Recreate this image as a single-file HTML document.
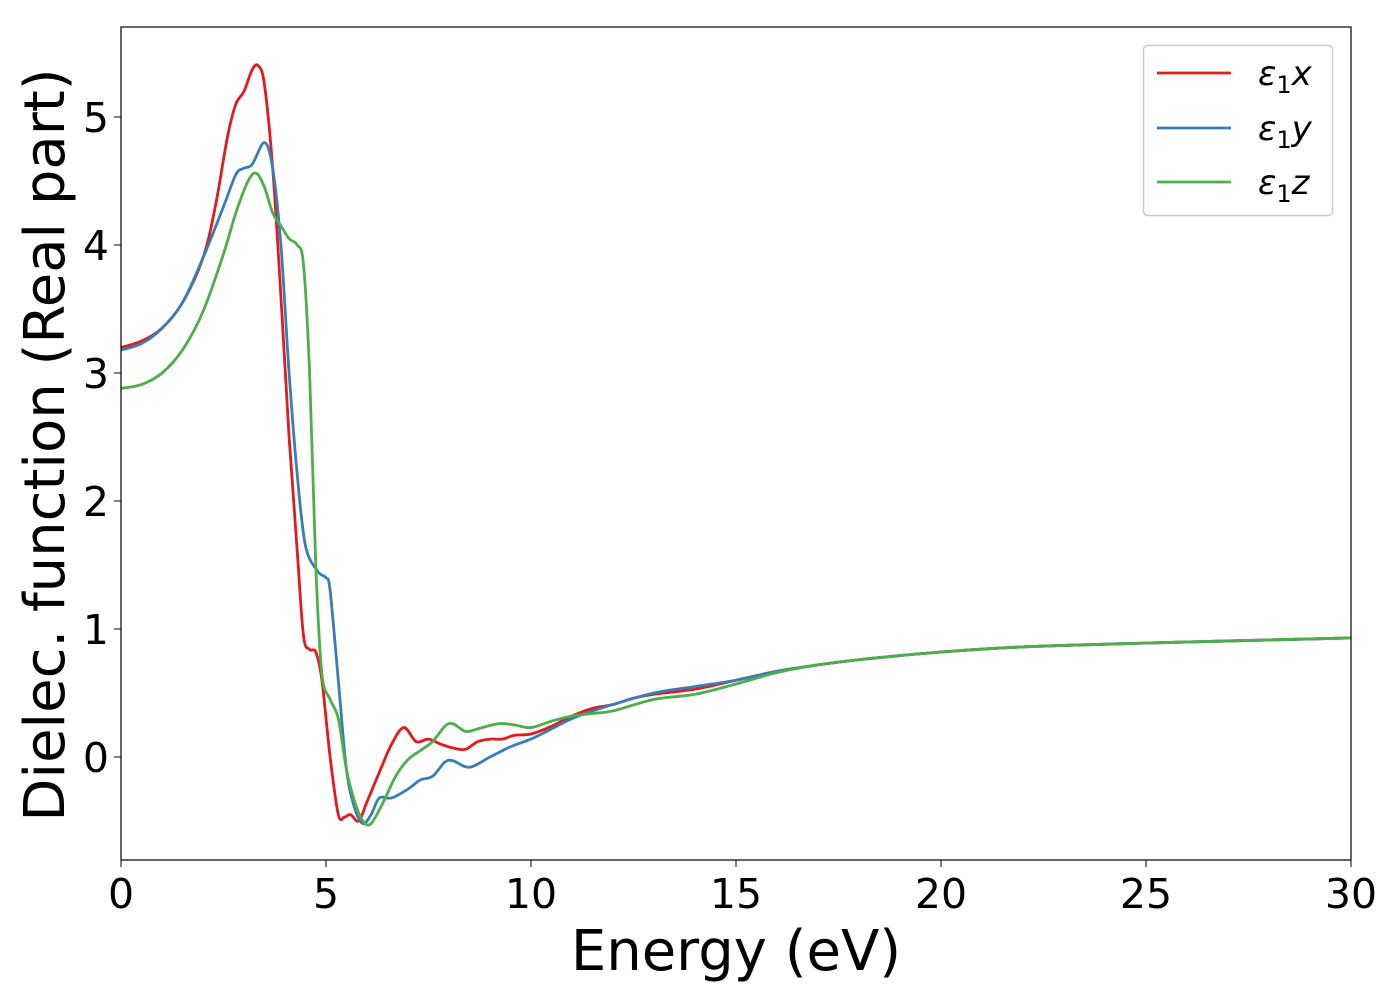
<!DOCTYPE html>
<html><head><meta charset="utf-8"><style>
body{margin:0;background:#fff;width:1400px;height:1000px;overflow:hidden}
svg text{font-family:"DejaVu Sans","Liberation Sans",sans-serif;fill:#000}
</style></head><body>
<svg id="chart" width="1400" height="1000" xmlns="http://www.w3.org/2000/svg">
<g id="plot"></g>
<g id="axes"></g>
<text x="736" y="970" font-size="56" text-anchor="middle">Energy (eV)</text>
<text transform="translate(64,445) rotate(-90)" font-size="56" text-anchor="middle">Dielec. function (Real part)</text>
<g>
<rect x="1143.5" y="45.5" width="189" height="170" rx="4" fill="#fff" stroke="#ccc" stroke-width="1.5"/>
<line x1="1157" y1="73" x2="1231" y2="73" stroke="#e41a1c" stroke-width="2.8"/>
<text x="1258" y="85" font-size="34" font-style="italic">ε<tspan font-size="24" font-style="normal" dy="8">1</tspan><tspan dy="-8">x</tspan></text>
<line x1="1157" y1="128" x2="1231" y2="128" stroke="#377eb8" stroke-width="2.8"/>
<text x="1258" y="140" font-size="34" font-style="italic">ε<tspan font-size="24" font-style="normal" dy="8">1</tspan><tspan dy="-8">y</tspan></text>
<line x1="1157" y1="182" x2="1231" y2="182" stroke="#4daf4a" stroke-width="2.8"/>
<text x="1258" y="194" font-size="34" font-style="italic">ε<tspan font-size="24" font-style="normal" dy="8">1</tspan><tspan dy="-8">z</tspan></text>
</g>
</svg>
<script>
const xTicks=[0,5,10,15,20,25,30];
const yTicks=[0,1,2,3,4,5];
const ex=[[0,3.2],[0.5,3.25],[1,3.35],[1.5,3.55],[2,3.9],[2.3,4.3],[2.6,4.85],[2.8,5.1],[3.0,5.2],[3.2,5.37],[3.35,5.4],[3.5,5.25],[3.7,4.6],[3.9,3.6],[4.1,2.5],[4.3,1.6],[4.45,0.95],[4.6,0.84],[4.75,0.82],[4.9,0.6],[5.1,0.0],[5.3,-0.45],[5.45,-0.47],[5.6,-0.45],[5.8,-0.5],[6.0,-0.35],[6.3,-0.12],[6.6,0.1],[6.9,0.23],[7.2,0.12],[7.5,0.14],[7.8,0.1],[8.1,0.07],[8.4,0.06],[8.7,0.12],[9.0,0.14],[9.3,0.14],[9.6,0.17],[10,0.18],[10.5,0.24],[11,0.32],[11.5,0.38],[12,0.41],[12.5,0.46],[13,0.49],[14,0.53],[15,0.6],[16,0.67],[17,0.72],[18,0.76],[20,0.82],[22,0.86],[25,0.89],[30,0.93]];
const ey=[[0,3.18],[0.5,3.23],[1,3.35],[1.5,3.55],[2,3.9],[2.5,4.3],[2.8,4.55],[3.0,4.6],[3.2,4.63],[3.5,4.8],[3.7,4.6],[3.9,4.0],[4.1,3.0],[4.3,2.2],[4.5,1.65],[4.8,1.45],[5.0,1.4],[5.1,1.3],[5.3,0.6],[5.5,-0.1],[5.7,-0.4],[5.9,-0.52],[6.1,-0.45],[6.3,-0.32],[6.6,-0.32],[7,-0.25],[7.3,-0.18],[7.6,-0.15],[7.9,-0.04],[8.1,-0.03],[8.5,-0.08],[9,0.0],[9.5,0.08],[10,0.14],[10.5,0.22],[11,0.3],[11.5,0.36],[12,0.41],[13,0.5],[14,0.55],[15,0.6],[16,0.67],[17,0.72],[18,0.76],[20,0.82],[22,0.86],[25,0.89],[30,0.93]];
const ez=[[0,2.88],[0.5,2.91],[1,3.0],[1.5,3.18],[2,3.48],[2.5,3.93],[2.8,4.25],[3.1,4.5],[3.3,4.56],[3.5,4.45],[3.7,4.25],[3.9,4.15],[4.1,4.05],[4.3,4.0],[4.45,3.85],[4.6,3.0],[4.75,1.5],[4.9,0.65],[5.1,0.45],[5.3,0.3],[5.5,-0.1],[5.7,-0.35],[5.9,-0.5],[6.1,-0.52],[6.4,-0.35],[6.7,-0.15],[7,-0.02],[7.3,0.05],[7.6,0.12],[7.9,0.24],[8.1,0.26],[8.4,0.2],[8.7,0.22],[9.2,0.26],[9.6,0.25],[10,0.23],[10.5,0.28],[11,0.32],[11.5,0.34],[12,0.36],[13,0.45],[14,0.49],[15,0.57],[16,0.66],[17,0.72],[18,0.76],[20,0.82],[22,0.86],[25,0.89],[30,0.93]];
const X=v=>121+v*41, Y=v=>757-v*128;
const NS="http://www.w3.org/2000/svg";
const plot=document.getElementById('plot'), axes=document.getElementById('axes');
function path(d){let s=`M${X(d[0][0])},${Y(d[0][1])}`;
 for(let i=0;i<d.length-1;i++){const p0=d[Math.max(i-1,0)],p1=d[i],p2=d[i+1],p3=d[Math.min(i+2,d.length-1)];
 const c1x=X(p1[0])+(X(p2[0])-X(p0[0]))/6,c1y=Y(p1[1])+(Y(p2[1])-Y(p0[1]))/6,c2x=X(p2[0])-(X(p3[0])-X(p1[0]))/6,c2y=Y(p2[1])-(Y(p3[1])-Y(p1[1]))/6;
 s+=`C${c1x},${c1y} ${c2x},${c2y} ${X(p2[0])},${Y(p2[1])}`;}return s;}
[[ex,'#e41a1c','series-e1x'],[ey,'#377eb8','series-e1y'],[ez,'#4daf4a','series-e1z']].forEach(([d,c,n])=>{
 const p=document.createElementNS(NS,'path');p.setAttribute('d',path(d));p.setAttribute('fill','none');p.setAttribute('stroke',c);p.setAttribute('stroke-width','2.8');
 
 
 plot.appendChild(p);});
const fr=document.createElementNS(NS,'rect');fr.setAttribute('x',121);fr.setAttribute('y',27);fr.setAttribute('width',1230);fr.setAttribute('height',833);fr.setAttribute('fill','none');fr.setAttribute('stroke','#000');fr.setAttribute('stroke-width','1.2');


axes.appendChild(fr);
xTicks.forEach(t=>{const l=document.createElementNS(NS,'line');l.setAttribute('x1',X(t));l.setAttribute('x2',X(t));l.setAttribute('y1',860);l.setAttribute('y2',867);l.setAttribute('stroke','#000');
 
 
 axes.appendChild(l);
 const tx=document.createElementNS(NS,'text');tx.setAttribute('x',X(t));tx.setAttribute('y',908);tx.setAttribute('font-size','41');tx.setAttribute('text-anchor','middle');tx.textContent=t;
 
 
 axes.appendChild(tx);});
yTicks.forEach(t=>{const l=document.createElementNS(NS,'line');l.setAttribute('x1',114);l.setAttribute('x2',121);l.setAttribute('y1',Y(t));l.setAttribute('y2',Y(t));l.setAttribute('stroke','#000');
 
 
 axes.appendChild(l);
 const tx=document.createElementNS(NS,'text');tx.setAttribute('x',109);tx.setAttribute('y',Y(t)+15);tx.setAttribute('font-size','41');tx.setAttribute('text-anchor','end');tx.textContent=t;
 
 
 axes.appendChild(tx);});
</script>
</body></html>
